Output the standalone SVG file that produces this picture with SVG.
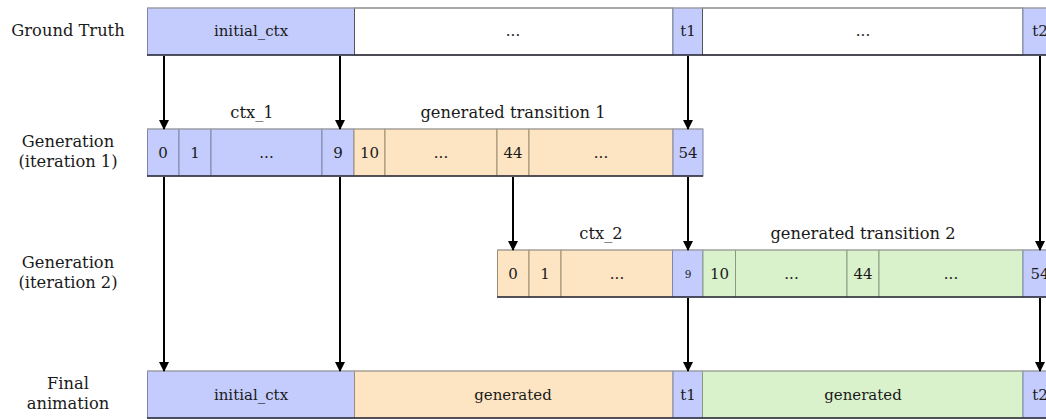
<svg xmlns="http://www.w3.org/2000/svg" width="1046" height="419" viewBox="0 0 1046 419">
<style>
text{font-family:"DejaVu Serif","Liberation Serif",serif;fill:#1a1a1a;text-anchor:middle}
.lbl{font-size:16.3px}
.c{font-size:15px}
.s{font-size:10.5px}
.b{fill:#c3ccfd;stroke:#7f86a8;stroke-width:1}
.o{fill:#fde5c3;stroke:#9b8c72;stroke-width:1}
.g{fill:#d9f2cc;stroke:#8a9a80;stroke-width:1}
.w{fill:#ffffff;stroke:#555;stroke-width:1}
.top{stroke:#a9a9a9;stroke-width:1.2}
.bot{stroke:#2b2b38;stroke-width:1.4}
.arr{stroke:#000;stroke-width:2;fill:none;marker-end:url(#ah)}
</style>
<defs>
<marker id="ah" markerWidth="10" markerHeight="10" refX="9" refY="5" orient="auto" markerUnits="userSpaceOnUse">
<path d="M0,0 L10,5 L0,10 z" fill="#000"/>
</marker>
</defs>
<rect width="1046" height="419" fill="#fff"/>

<g id="row-labels">
<text class="lbl" x="68" y="36">Ground Truth</text>
<text class="lbl" x="68" y="147">Generation</text>
<text class="lbl" x="68" y="167">(iteration 1)</text>
<text class="lbl" x="68" y="268">Generation</text>
<text class="lbl" x="68" y="288">(iteration 2)</text>
<text class="lbl" x="68" y="389">Final</text>
<text class="lbl" x="68" y="409">animation</text>
</g>

<g id="group-labels">
<text class="lbl" x="252" y="118">ctx_1</text>
<text class="lbl" x="513" y="118">generated transition 1</text>
<text class="lbl" x="601" y="239">ctx_2</text>
<text class="lbl" x="863" y="239">generated transition 2</text>
</g>

<g id="ground-truth">
<rect class="b" x="147.5" y="8" width="207" height="47"/>
<rect class="w" x="354.5" y="8" width="318.5" height="47"/>
<rect class="b" x="673" y="8" width="29.5" height="47"/>
<rect class="w" x="702.5" y="8" width="320.5" height="47"/>
<rect class="b" x="1023" y="8" width="30" height="47"/>
<line class="top" x1="147" y1="8" x2="1046" y2="8"/>
<line class="bot" x1="147" y1="55" x2="1046" y2="55"/>
<text class="c" x="251" y="36">initial_ctx</text>
<text class="c" x="513" y="36">...</text>
<text class="c" x="688" y="36">t1</text>
<text class="c" x="863" y="36">...</text>
<text class="c" x="1040" y="36">t2</text>
</g>

<g id="generation-1">
<rect class="b" x="147.5" y="129" width="31.5" height="47"/>
<rect class="b" x="179" y="129" width="32" height="47"/>
<rect class="b" x="211" y="129" width="111" height="47"/>
<rect class="b" x="322" y="129" width="32" height="47"/>
<rect class="o" x="354" y="129" width="31" height="47"/>
<rect class="o" x="385" y="129" width="112" height="47"/>
<rect class="o" x="497" y="129" width="32" height="47"/>
<rect class="o" x="529" y="129" width="144" height="47"/>
<rect class="b" x="673" y="129" width="30" height="47"/>
<line class="top" x1="147" y1="129" x2="703" y2="129"/>
<line class="bot" x1="147" y1="176" x2="703" y2="176"/>
<text class="c" x="163" y="158">0</text>
<text class="c" x="195" y="158">1</text>
<text class="c" x="266.5" y="158">...</text>
<text class="c" x="338" y="158">9</text>
<text class="c" x="369.5" y="158">10</text>
<text class="c" x="441" y="158">...</text>
<text class="c" x="513" y="158">44</text>
<text class="c" x="601" y="158">...</text>
<text class="c" x="688" y="158">54</text>
</g>

<g id="generation-2">
<rect class="o" x="497.5" y="250" width="31.5" height="47"/>
<rect class="o" x="529" y="250" width="32" height="47"/>
<rect class="o" x="561" y="250" width="111.5" height="47"/>
<rect class="b" x="672.5" y="250" width="30.5" height="47"/>
<rect class="g" x="703" y="250" width="32.5" height="47"/>
<rect class="g" x="735.5" y="250" width="111.5" height="47"/>
<rect class="g" x="847" y="250" width="32" height="47"/>
<rect class="g" x="879" y="250" width="144" height="47"/>
<rect class="b" x="1023" y="250" width="30" height="47"/>
<line class="top" x1="497" y1="250" x2="1046" y2="250"/>
<line class="bot" x1="497" y1="297" x2="1046" y2="297"/>
<text class="c" x="513" y="279">0</text>
<text class="c" x="545" y="279">1</text>
<text class="c" x="617" y="279">...</text>
<text class="s" x="688" y="278">9</text>
<text class="c" x="719.5" y="279">10</text>
<text class="c" x="791.5" y="279">...</text>
<text class="c" x="863" y="279">44</text>
<text class="c" x="951" y="279">...</text>
<text class="c" x="1040" y="279">54</text>
</g>

<g id="final-animation">
<rect class="b" x="147.5" y="371" width="207" height="47"/>
<rect class="o" x="354.5" y="371" width="318.5" height="47"/>
<rect class="b" x="673" y="371" width="29.5" height="47"/>
<rect class="g" x="702.5" y="371" width="320.5" height="47"/>
<rect class="b" x="1023" y="371" width="30" height="47"/>
<line class="top" x1="147" y1="371" x2="1046" y2="371"/>
<line class="bot" x1="147" y1="418" x2="1046" y2="418"/>
<text class="c" x="251" y="400">initial_ctx</text>
<text class="c" x="513" y="400">generated</text>
<text class="c" x="688" y="400">t1</text>
<text class="c" x="863" y="400">generated</text>
<text class="c" x="1040" y="400">t2</text>
</g>

<g id="connectors">
<line class="arr" x1="164" y1="56" x2="164" y2="129"/>
<line class="arr" x1="340" y1="56" x2="340" y2="129"/>
<line class="arr" x1="688" y1="56" x2="688" y2="129"/>
<line class="arr" x1="1040" y1="56" x2="1040" y2="250"/>
<line class="arr" x1="164" y1="177" x2="164" y2="371"/>
<line class="arr" x1="340" y1="177" x2="340" y2="371"/>
<line class="arr" x1="513" y1="177" x2="513" y2="250"/>
<line class="arr" x1="688" y1="177" x2="688" y2="250"/>
<line class="arr" x1="688" y1="298" x2="688" y2="371"/>
<line class="arr" x1="1040" y1="298" x2="1040" y2="371"/>
</g>
</svg>
